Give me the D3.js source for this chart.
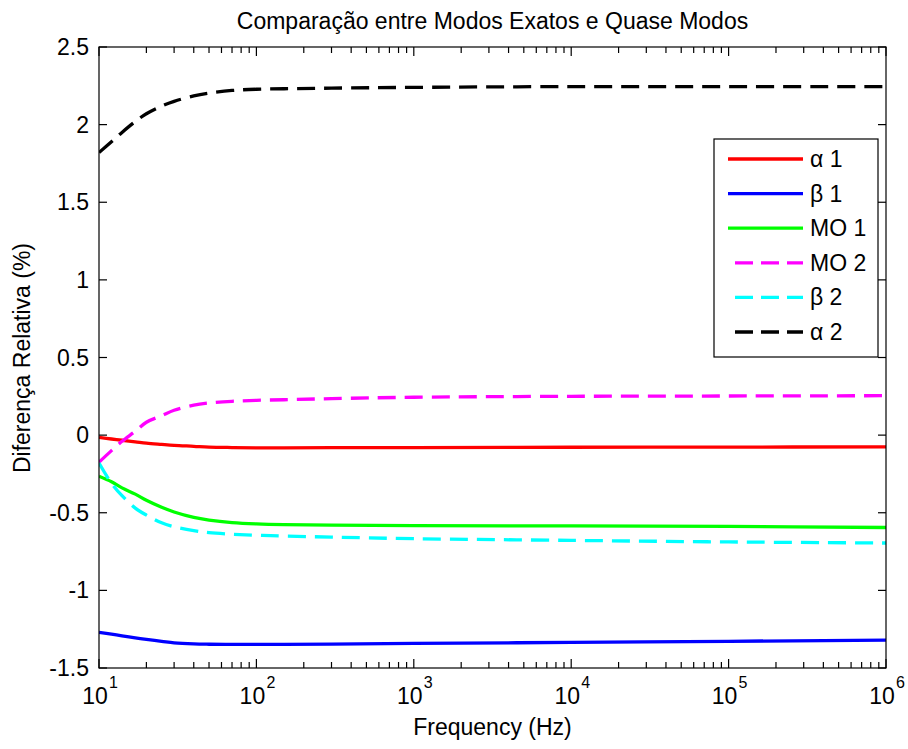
<!DOCTYPE html>
<html><head><meta charset="utf-8">
<script src="https://cdn.jsdelivr.net/npm/d3@7"></script>
<style>
body{margin:0;background:#fff;}
svg{display:block;}
text{font-family:"Liberation Sans",Arial,sans-serif;fill:#000;}
</style></head>
<body>
<svg id="chart" width="908" height="749"></svg>
<script>
const titleText = "Comparação entre Modos Exatos e Quase Modos";
const xLabel = "Frequency (Hz)";
const yLabel = "Diferença Relativa (%)";
const freq   = [10, 12, 14, 17, 20, 25, 30, 40, 50, 70, 100, 150, 300, 1e3, 1e4, 1e5, 1e6];
const alpha1 = [-0.015, -0.025, -0.033, -0.043, -0.052, -0.06, -0.066, -0.072, -0.077, -0.08, -0.082, -0.082, -0.081, -0.08, -0.078, -0.077, -0.076];
const beta1  = [-1.27, -1.282, -1.293, -1.306, -1.316, -1.328, -1.338, -1.345, -1.347, -1.348, -1.348, -1.348, -1.346, -1.342, -1.335, -1.328, -1.32];
const mo1    = [-0.265, -0.3, -0.34, -0.38, -0.42, -0.465, -0.495, -0.53, -0.547, -0.563, -0.572, -0.577, -0.58, -0.583, -0.585, -0.588, -0.595];
const mo2    = [-0.175, -0.1, -0.04, 0.025, 0.083, 0.125, 0.16, 0.193, 0.207, 0.218, 0.224, 0.228, 0.235, 0.244, 0.25, 0.252, 0.254];
const beta2  = [-0.18, -0.31, -0.39, -0.47, -0.515, -0.565, -0.59, -0.615, -0.628, -0.638, -0.645, -0.65, -0.657, -0.667, -0.678, -0.688, -0.695];
const alpha2 = [1.82, 1.89, 1.95, 2.02, 2.07, 2.12, 2.15, 2.185, 2.203, 2.22, 2.228, 2.231, 2.235, 2.24, 2.245, 2.245, 2.245];
const seriesNames = ["α 1", "β 1", "MO 1", "MO 2", "β 2", "α 2"];
const seriesValues = [alpha1, beta1, mo1, mo2, beta2, alpha2];
const seriesColors = ["#ff0000", "#0000ff", "#00ff00", "#ff00ff", "#00ffff", "#000000"];
const seriesDashed = [false, false, false, true, true, true];
const yTicks = [2.5, 2, 1.5, 1, 0.5, 0, -0.5, -1, -1.5];
const xTickExps = [1, 2, 3, 4, 5, 6];

const svg = d3.select("#chart");
const L = 99, R = 886, T = 47, B = 668;
const x = d3.scaleLog().domain([10, 1e6]).range([L, R]);
const y = d3.scaleLinear().domain([-1.5, 2.5]).range([B, T]);
const FS = 23;

svg.append("defs").append("clipPath").attr("id", "clip")
  .append("rect").attr("x", L).attr("y", T).attr("width", R - L).attr("height", B - T);

// title
svg.append("text").attr("x", (L + R) / 2).attr("y", 29).attr("text-anchor", "middle")
  .attr("font-size", FS).text(titleText);

// lines
const line = d3.line().x(d => x(d[0])).y(d => y(d[1])).curve(d3.curveCatmullRom.alpha(0.5));
const g = svg.append("g").attr("clip-path", "url(#clip)");
seriesValues.forEach((vals, i) => {
  g.append("path").datum(freq.map((f, k) => [f, vals[k]]))
    .attr("d", line).attr("fill", "none")
    .attr("stroke", seriesColors[i]).attr("stroke-width", 3.3)
    .attr("stroke-dasharray", seriesDashed[i] ? "18,9" : null);
});

// axes box and ticks
const ax = svg.append("g").attr("stroke", "#000").attr("stroke-width", 1.2);
ax.append("rect").attr("x", L).attr("y", T).attr("width", R - L).attr("height", B - T).attr("fill", "none");
yTicks.forEach(v => {
  const yy = y(v);
  ax.append("line").attr("x1", L).attr("x2", L + 8).attr("y1", yy).attr("y2", yy);
  ax.append("line").attr("x1", R).attr("x2", R - 8).attr("y1", yy).attr("y2", yy);
  svg.append("text").attr("x", 89).attr("y", yy + 8).attr("text-anchor", "end")
    .attr("font-size", FS).text(String(v));
});
x.ticks().forEach(t => {
  const xx = x(t);
  const e = Math.log10(t);
  const major = Math.abs(e - Math.round(e)) < 1e-9;
  const len = major ? 9 : 6;
  ax.append("line").attr("x1", xx).attr("x2", xx).attr("y1", B).attr("y2", B - len);
  ax.append("line").attr("x1", xx).attr("x2", xx).attr("y1", T).attr("y2", T + len);
});
xTickExps.forEach(e => {
  const xx = x(Math.pow(10, e));
  svg.append("text").attr("x", xx - 4).attr("y", 704).attr("text-anchor", "middle")
    .attr("font-size", FS).text("10");
  svg.append("text").attr("x", xx + 10).attr("y", 688).attr("font-size", 16).text(String(e));
});

// axis labels
svg.append("text").attr("x", (L + R) / 2).attr("y", 735).attr("text-anchor", "middle")
  .attr("font-size", FS).text(xLabel);
svg.append("text").attr("transform", "translate(30,358) rotate(-90)").attr("text-anchor", "middle")
  .attr("font-size", FS).text(yLabel);

// legend
const lg = svg.append("g");
lg.append("rect").attr("x", 714).attr("y", 139).attr("width", 164).attr("height", 218)
  .attr("fill", "#fff").attr("stroke", "#000").attr("stroke-width", 1.2);
seriesNames.forEach((n, i) => {
  const yy = 159 + i * 34.6;
  lg.append("line").attr("x1", 728).attr("x2", 803).attr("y1", yy).attr("y2", yy)
    .attr("stroke", seriesColors[i]).attr("stroke-width", 3.3)
    .attr("stroke-dasharray", seriesDashed[i] ? "18,8" : null)
    .attr("stroke-dashoffset", seriesDashed[i] ? 19 : null);
  lg.append("text").attr("x", 810).attr("y", yy + 8).attr("font-size", FS).text(n);
});
</script>
</body></html>
